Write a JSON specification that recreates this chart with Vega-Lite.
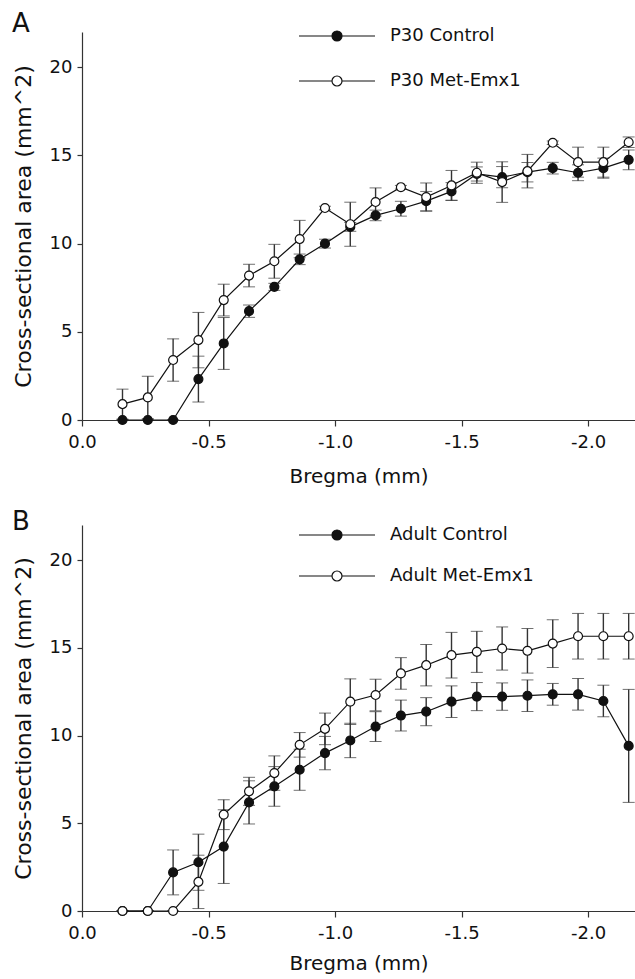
{
  "$schema": "https://vega.github.io/schema/vega-lite/v6.json",
  "padding": {"left": 12, "top": 11, "right": 0, "bottom": 0},
  "background": "white",
  "config": {
    "view": {"stroke": null},
    "font": "DejaVu Sans",
    "locale": {"number": {"decimal": ".", "thousands": ",", "grouping": [3], "currency": ["$", ""], "minus": "-"}},
    "axis": {"grid": false, "domainColor": "#333", "tickColor": "#333", "labelColor": "#111", "titleColor": "#111", "labelFont": "DejaVu Sans", "titleFont": "DejaVu Sans", "labelFontSize": 18, "titleFontWeight": "normal", "domainWidth": 1.2, "tickWidth": 1.2, "labelFlush": false, "labelOverlap": false},
    "legend": {"labelFont": "DejaVu Sans", "labelFontSize": 18, "labelColor": "#111", "padding": 0}
  },
  "spacing": 22,
  "resolve": {"scale": {"fill": "independent"}, "legend": {"fill": "independent"}},
  "data": {"values": [
    {"panel": "A", "series": "P30 Control", "bregma": -0.16, "mean": 0, "err": 0},
    {"panel": "A", "series": "P30 Control", "bregma": -0.26, "mean": 0, "err": 0},
    {"panel": "A", "series": "P30 Control", "bregma": -0.36, "mean": 0, "err": 0},
    {"panel": "A", "series": "P30 Control", "bregma": -0.46, "mean": 2.32, "err": 1.3},
    {"panel": "A", "series": "P30 Control", "bregma": -0.56, "mean": 4.34, "err": 1.47},
    {"panel": "A", "series": "P30 Control", "bregma": -0.66, "mean": 6.17, "err": 0.35},
    {"panel": "A", "series": "P30 Control", "bregma": -0.76, "mean": 7.55, "err": 0.2},
    {"panel": "A", "series": "P30 Control", "bregma": -0.86, "mean": 9.11, "err": 0.3},
    {"panel": "A", "series": "P30 Control", "bregma": -0.96, "mean": 10.0, "err": 0.25},
    {"panel": "A", "series": "P30 Control", "bregma": -1.06, "mean": 10.95, "err": 0.25},
    {"panel": "A", "series": "P30 Control", "bregma": -1.16, "mean": 11.6, "err": 0.3},
    {"panel": "A", "series": "P30 Control", "bregma": -1.26, "mean": 11.98, "err": 0.42},
    {"panel": "A", "series": "P30 Control", "bregma": -1.36, "mean": 12.41, "err": 0.55},
    {"panel": "A", "series": "P30 Control", "bregma": -1.46, "mean": 12.96, "err": 0.5},
    {"panel": "A", "series": "P30 Control", "bregma": -1.56, "mean": 13.95, "err": 0.4},
    {"panel": "A", "series": "P30 Control", "bregma": -1.66, "mean": 13.77, "err": 0.6},
    {"panel": "A", "series": "P30 Control", "bregma": -1.76, "mean": 14.05, "err": 0.55},
    {"panel": "A", "series": "P30 Control", "bregma": -1.86, "mean": 14.28, "err": 0.33},
    {"panel": "A", "series": "P30 Control", "bregma": -1.96, "mean": 14.02, "err": 0.45},
    {"panel": "A", "series": "P30 Control", "bregma": -2.06, "mean": 14.28, "err": 0.57},
    {"panel": "A", "series": "P30 Control", "bregma": -2.16, "mean": 14.75, "err": 0.56},
    {"panel": "A", "series": "P30 Met-Emx1", "bregma": -0.16, "mean": 0.9, "err": 0.85},
    {"panel": "A", "series": "P30 Met-Emx1", "bregma": -0.26, "mean": 1.28, "err": 1.2},
    {"panel": "A", "series": "P30 Met-Emx1", "bregma": -0.36, "mean": 3.4, "err": 1.2},
    {"panel": "A", "series": "P30 Met-Emx1", "bregma": -0.46, "mean": 4.53, "err": 1.57},
    {"panel": "A", "series": "P30 Met-Emx1", "bregma": -0.56, "mean": 6.8, "err": 0.9},
    {"panel": "A", "series": "P30 Met-Emx1", "bregma": -0.66, "mean": 8.19, "err": 0.64},
    {"panel": "A", "series": "P30 Met-Emx1", "bregma": -0.76, "mean": 9.0, "err": 0.96},
    {"panel": "A", "series": "P30 Met-Emx1", "bregma": -0.86, "mean": 10.26, "err": 1.06},
    {"panel": "A", "series": "P30 Met-Emx1", "bregma": -0.96, "mean": 12.02, "err": 0.1},
    {"panel": "A", "series": "P30 Met-Emx1", "bregma": -1.06, "mean": 11.1, "err": 1.25},
    {"panel": "A", "series": "P30 Met-Emx1", "bregma": -1.16, "mean": 12.36, "err": 0.8},
    {"panel": "A", "series": "P30 Met-Emx1", "bregma": -1.26, "mean": 13.2, "err": 0.1},
    {"panel": "A", "series": "P30 Met-Emx1", "bregma": -1.36, "mean": 12.64, "err": 0.8},
    {"panel": "A", "series": "P30 Met-Emx1", "bregma": -1.46, "mean": 13.3, "err": 0.85},
    {"panel": "A", "series": "P30 Met-Emx1", "bregma": -1.56, "mean": 14.02, "err": 0.6},
    {"panel": "A", "series": "P30 Met-Emx1", "bregma": -1.66, "mean": 13.49, "err": 1.15},
    {"panel": "A", "series": "P30 Met-Emx1", "bregma": -1.76, "mean": 14.11, "err": 0.95},
    {"panel": "A", "series": "P30 Met-Emx1", "bregma": -1.86, "mean": 15.72, "err": 0.1},
    {"panel": "A", "series": "P30 Met-Emx1", "bregma": -1.96, "mean": 14.62, "err": 0.85},
    {"panel": "A", "series": "P30 Met-Emx1", "bregma": -2.06, "mean": 14.62, "err": 0.85},
    {"panel": "A", "series": "P30 Met-Emx1", "bregma": -2.16, "mean": 15.75, "err": 0.3},
    {"panel": "B", "series": "Adult Control", "bregma": -0.16, "mean": 0, "err": 0},
    {"panel": "B", "series": "Adult Control", "bregma": -0.26, "mean": 0, "err": 0},
    {"panel": "B", "series": "Adult Control", "bregma": -0.36, "mean": 2.2, "err": 1.28},
    {"panel": "B", "series": "Adult Control", "bregma": -0.46, "mean": 2.78, "err": 1.6},
    {"panel": "B", "series": "Adult Control", "bregma": -0.56, "mean": 3.67, "err": 2.1},
    {"panel": "B", "series": "Adult Control", "bregma": -0.66, "mean": 6.19, "err": 1.23},
    {"panel": "B", "series": "Adult Control", "bregma": -0.76, "mean": 7.1, "err": 1.13},
    {"panel": "B", "series": "Adult Control", "bregma": -0.86, "mean": 8.05, "err": 1.17},
    {"panel": "B", "series": "Adult Control", "bregma": -0.96, "mean": 9.0, "err": 0.95},
    {"panel": "B", "series": "Adult Control", "bregma": -1.06, "mean": 9.72, "err": 0.98},
    {"panel": "B", "series": "Adult Control", "bregma": -1.16, "mean": 10.51, "err": 0.85},
    {"panel": "B", "series": "Adult Control", "bregma": -1.26, "mean": 11.14, "err": 0.88},
    {"panel": "B", "series": "Adult Control", "bregma": -1.36, "mean": 11.36, "err": 0.8},
    {"panel": "B", "series": "Adult Control", "bregma": -1.46, "mean": 11.93, "err": 0.9},
    {"panel": "B", "series": "Adult Control", "bregma": -1.56, "mean": 12.22, "err": 0.8},
    {"panel": "B", "series": "Adult Control", "bregma": -1.66, "mean": 12.22, "err": 0.78},
    {"panel": "B", "series": "Adult Control", "bregma": -1.76, "mean": 12.27, "err": 0.9},
    {"panel": "B", "series": "Adult Control", "bregma": -1.86, "mean": 12.35, "err": 0.62},
    {"panel": "B", "series": "Adult Control", "bregma": -1.96, "mean": 12.35, "err": 0.9},
    {"panel": "B", "series": "Adult Control", "bregma": -2.06, "mean": 11.97, "err": 0.9},
    {"panel": "B", "series": "Adult Control", "bregma": -2.16, "mean": 9.41, "err": 3.22},
    {"panel": "B", "series": "Adult Met-Emx1", "bregma": -0.16, "mean": 0, "err": 0},
    {"panel": "B", "series": "Adult Met-Emx1", "bregma": -0.26, "mean": 0, "err": 0},
    {"panel": "B", "series": "Adult Met-Emx1", "bregma": -0.36, "mean": 0, "err": 0},
    {"panel": "B", "series": "Adult Met-Emx1", "bregma": -0.46, "mean": 1.66, "err": 1.52},
    {"panel": "B", "series": "Adult Met-Emx1", "bregma": -0.56, "mean": 5.49, "err": 0.85},
    {"panel": "B", "series": "Adult Met-Emx1", "bregma": -0.66, "mean": 6.82, "err": 0.8},
    {"panel": "B", "series": "Adult Met-Emx1", "bregma": -0.76, "mean": 7.86, "err": 0.98},
    {"panel": "B", "series": "Adult Met-Emx1", "bregma": -0.86, "mean": 9.47, "err": 0.7},
    {"panel": "B", "series": "Adult Met-Emx1", "bregma": -0.96, "mean": 10.38, "err": 0.9},
    {"panel": "B", "series": "Adult Met-Emx1", "bregma": -1.06, "mean": 11.93, "err": 1.3},
    {"panel": "B", "series": "Adult Met-Emx1", "bregma": -1.16, "mean": 12.31, "err": 0.9},
    {"panel": "B", "series": "Adult Met-Emx1", "bregma": -1.26, "mean": 13.54, "err": 0.9},
    {"panel": "B", "series": "Adult Met-Emx1", "bregma": -1.36, "mean": 14.01, "err": 1.18},
    {"panel": "B", "series": "Adult Met-Emx1", "bregma": -1.46, "mean": 14.58, "err": 1.3},
    {"panel": "B", "series": "Adult Met-Emx1", "bregma": -1.56, "mean": 14.77, "err": 1.17},
    {"panel": "B", "series": "Adult Met-Emx1", "bregma": -1.66, "mean": 14.96, "err": 1.23},
    {"panel": "B", "series": "Adult Met-Emx1", "bregma": -1.76, "mean": 14.83, "err": 1.27},
    {"panel": "B", "series": "Adult Met-Emx1", "bregma": -1.86, "mean": 15.24, "err": 1.36},
    {"panel": "B", "series": "Adult Met-Emx1", "bregma": -1.96, "mean": 15.66, "err": 1.3},
    {"panel": "B", "series": "Adult Met-Emx1", "bregma": -2.06, "mean": 15.66, "err": 1.3},
    {"panel": "B", "series": "Adult Met-Emx1", "bregma": -2.16, "mean": 15.66, "err": 1.3}
  ]},
  "vconcat": [
    {
      "title": {"text": "A", "anchor": "start", "frame": "bounds", "fontSize": 26, "fontWeight": "normal", "font": "DejaVu Sans", "color": "#111", "baseline": "alphabetic", "offset": -31},
      "width": 553, "height": 388,
      "transform": [{"filter": "datum.panel === 'A'"}],
      "encoding": {
        "x": {"field": "bregma", "type": "quantitative", "scale": {"domain": [0, -2.185], "nice": false, "zero": false},
          "axis": {"values": [0, -0.5, -1, -1.5, -2], "format": ".1f", "title": "Bregma (mm)", "titleFontSize": 20, "tickSize": 6, "labelPadding": 7.5, "titlePadding": 15}},
        "y": {"field": "mean", "type": "quantitative", "scale": {"domain": [0, 22], "nice": false},
          "axis": {"values": [0, 5, 10, 15, 20], "title": "Cross-sectional area (mm^2)", "titleFontSize": 22, "tickSize": 5, "labelPadding": 5, "titlePadding": 14}}
      },
      "layer": [
        {"mark": {"type": "errorbar", "ticks": {"size": 12, "color": "#333", "strokeWidth": 1.4}, "rule": {"color": "#333", "strokeWidth": 1.4}},
          "encoding": {"yError": {"field": "err"}, "detail": {"field": "series"}}},
        {"mark": {"type": "line", "color": "#111", "strokeWidth": 1.2},
          "encoding": {"detail": {"field": "series"}}},
        {"mark": {"type": "circle", "size": 80, "opacity": 1, "stroke": "#111", "strokeWidth": 1.2},
          "encoding": {"fill": {"field": "series", "type": "nominal",
            "scale": {"domain": ["P30 Control", "P30 Met-Emx1"], "range": ["#111", "white"]},
            "legend": {"title": null, "orient": "none", "legendX": 246, "legendY": -5, "rowPadding": 27, "labelOffset": 44,
              "symbolSize": 100, "symbolStrokeColor": "#111", "symbolStrokeWidth": 1.2,
              "symbolType": "M-7.6,0H-1M1,0H7.6M-1,0A1,1 0 1,1 1,0A1,1 0 1,1 -1,0Z"}}}}
      ]
    },
    {
      "title": {"text": "B", "anchor": "start", "frame": "bounds", "fontSize": 26, "fontWeight": "normal", "font": "DejaVu Sans", "color": "#111", "baseline": "alphabetic", "offset": -31},
      "width": 553, "height": 386,
      "transform": [{"filter": "datum.panel === 'B'"}],
      "encoding": {
        "x": {"field": "bregma", "type": "quantitative", "scale": {"domain": [0, -2.185], "nice": false, "zero": false},
          "axis": {"values": [0, -0.5, -1, -1.5, -2], "format": ".1f", "title": "Bregma (mm)", "titleFontSize": 20, "tickSize": 6, "labelPadding": 7.5, "titlePadding": 11}},
        "y": {"field": "mean", "type": "quantitative", "scale": {"domain": [0, 22], "nice": false},
          "axis": {"values": [0, 5, 10, 15, 20], "title": "Cross-sectional area (mm^2)", "titleFontSize": 22, "tickSize": 5, "labelPadding": 5, "titlePadding": 14}}
      },
      "layer": [
        {"mark": {"type": "errorbar", "ticks": {"size": 12, "color": "#333", "strokeWidth": 1.4}, "rule": {"color": "#333", "strokeWidth": 1.4}},
          "encoding": {"yError": {"field": "err"}, "detail": {"field": "series"}}},
        {"mark": {"type": "line", "color": "#111", "strokeWidth": 1.2},
          "encoding": {"detail": {"field": "series"}}},
        {"mark": {"type": "circle", "size": 80, "opacity": 1, "stroke": "#111", "strokeWidth": 1.2},
          "encoding": {"fill": {"field": "series", "type": "nominal",
            "scale": {"domain": ["Adult Control", "Adult Met-Emx1"], "range": ["#111", "white"]},
            "legend": {"title": null, "orient": "none", "legendX": 246, "legendY": 1, "rowPadding": 23, "labelOffset": 44,
              "symbolSize": 100, "symbolStrokeColor": "#111", "symbolStrokeWidth": 1.2,
              "symbolType": "M-7.6,0H-1M1,0H7.6M-1,0A1,1 0 1,1 1,0A1,1 0 1,1 -1,0Z"}}}}
      ]
    }
  ]
}
